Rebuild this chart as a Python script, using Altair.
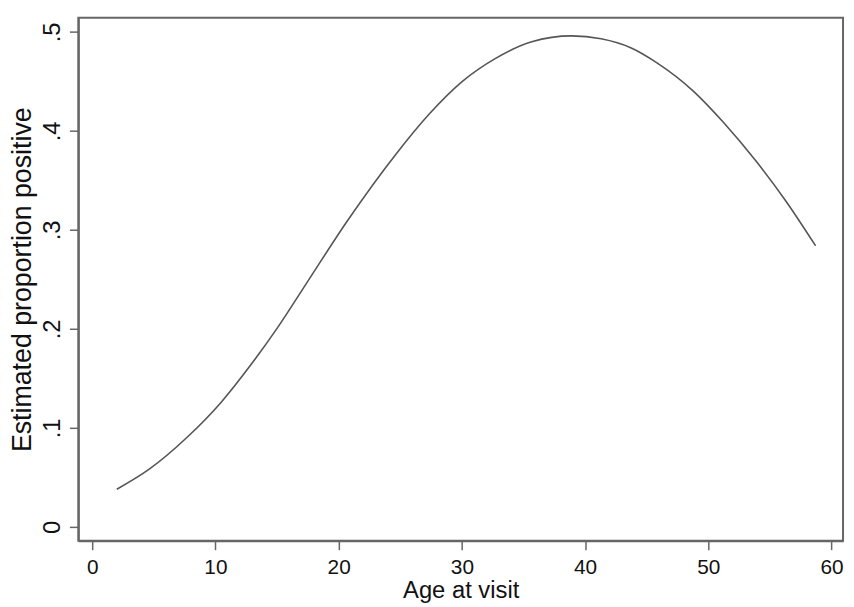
import altair as alt
import pandas as pd

age = [2.0, 4.6, 7.66, 10.47, 12.89, 15.03, 17.44, 20.7, 24.68, 27.35, 30.04,
       32.7, 35.67, 38.9, 41.3, 43.7, 45.8, 48.8, 51.2, 53.9, 56.3, 58.7]
prop = [0.038, 0.058, 0.090, 0.126, 0.164, 0.201, 0.247, 0.309, 0.377, 0.417, 0.450,
        0.473, 0.490, 0.496, 0.493, 0.484, 0.469, 0.440, 0.409, 0.369, 0.329, 0.284]
x_ticks = [0, 10, 20, 30, 40, 50, 60]
y_ticks = [0, 0.1, 0.2, 0.3, 0.4, 0.5]

df = pd.DataFrame({"age": age, "prop": prop})

font = "Liberation Sans"
chart = alt.Chart(df).mark_line(color="#555555", strokeWidth=1.6, interpolate="monotone").encode(
    x=alt.X("age:Q",
            scale=alt.Scale(domain=[-1.125, 60.93], nice=False, zero=False),
            axis=alt.Axis(title="Age at visit", values=x_ticks, grid=False,
                          labelFontSize=21, titleFontSize=24, titleFontWeight="normal",
                          labelPadding=7, titleBaseline="alphabetic", titleY=57,
                          tickSize=9, tickWidth=1.5,
                          tickColor="#666666", domainColor="#666666", domainWidth=2,
                          labelColor="#111111", titleColor="#111111",
                          labelFont=font, titleFont=font)),
    y=alt.Y("prop:Q",
            scale=alt.Scale(domain=[-0.014, 0.5143], nice=False, zero=False),
            axis=alt.Axis(title="Estimated proportion positive", values=y_ticks, grid=False,
                          labelExpr="datum.value == 0 ? '0' : '.' + round(datum.value * 10)",
                          labelAngle=270, labelAlign="center", labelBaseline="bottom",
                          labelFontSize=24, titleFontSize=27, titleFontWeight="normal",
                          labelPadding=5, titlePadding=4, tickSize=9, tickWidth=1.5,
                          tickColor="#666666", domainColor="#666666", domainWidth=2,
                          labelColor="#111111", titleColor="#111111",
                          labelFont=font, titleFont=font)),
).properties(
    width=772, height=528,
    autosize=alt.AutoSizeParams(type="none"),
    padding={"left": 71, "top": 7, "right": 3, "bottom": 60},
).configure_view(stroke="#666666", strokeWidth=2)

chart.save("out.html", embed_options={"renderer": "svg", "actions": False})
